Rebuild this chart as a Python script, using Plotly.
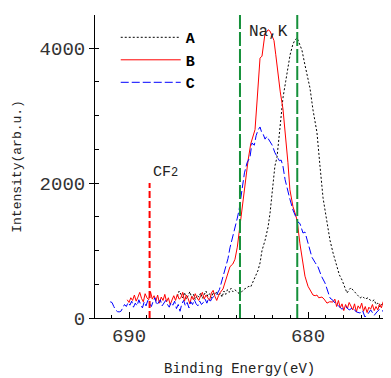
import plotly.graph_objects as go

# ---------------- data ----------------
A_E = [687.3,687.2,687.1,687.0,686.9,686.8,686.7,686.6,686.5,686.4,686.3,686.2,686.1,686.0,685.9,685.8,685.7,685.6,685.5,685.4,
       685.3,685.2,685.1,685.0,684.9,684.8,684.7,684.6,684.5,684.4,684.3,684.2,684.1,684.0,683.9,683.8,683.7,683.6,683.45,683.3,
       683.2,683.1,682.96,682.8,682.68,682.57,682.4,682.23,682.12,682.01,681.96,681.85,681.73,681.56,681.4,681.25,681.12,681.0,680.85,680.73,
       680.61,680.45,680.34,680.17,680.0,679.89,679.72,679.5,679.33,679.16,679.05,678.94,678.77,678.6,678.4,678.25,678.1,677.95,677.82,677.7,
       677.6,677.49,677.35,677.2,677.09,676.95,676.8,676.65,676.54,676.4,676.3,676.2,676.1,675.98,675.85,675.7,675.55,675.4]
A_I = [320,400,350,300,380,280,330,390,300,350,270,340,310,370,290,340,400,320,360,300,
       380,340,390,330,370,310,400,350,420,380,440,390,420,400,380,330,390,420,440,470,
       460,520,600,700,815,1000,1150,1350,1556,1850,2044,2250,2385,2800,3259,3500,3748,3900,4050,4119,
       4150,4044,3970,3748,3550,3407,3081,2750,2250,1780,1600,1407,1150,963,760,640,563,450,370,420,
       450,415,380,330,296,320,280,300,267,250,270,200,220,163,210,180,240,222]

B_E = [690.1,690.0,689.9,689.8,689.7,689.6,689.5,689.4,689.3,689.2,689.1,689.0,688.9,688.8,688.7,688.6,688.5,688.4,688.3,688.2,
       688.1,688.0,687.9,687.8,687.7,687.6,687.5,687.4,687.3,687.2,687.1,687.0,686.9,686.8,686.7,686.6,686.5,686.4,686.3,686.2,
       686.1,686.0,685.9,685.8,685.7,685.6,685.5,685.4,685.3,685.2,685.1,685.0,
       684.9,684.75,684.6,684.47,684.36,684.2,684.08,683.95,683.85,683.75,683.63,683.5,683.35,683.2,683.07,682.96,682.85,682.75,
       682.68,682.57,682.48,682.4,682.3,682.23,682.12,682.01,681.9,681.8,681.68,681.55,681.4,681.28,681.12,681.01,680.84,680.73,
       680.61,680.45,680.3,680.17,680.0,679.85,679.72,679.6,679.5,679.4,679.22,679.1,678.94,678.8,
       678.6,678.5,678.4,678.3,678.2,678.1,678.0,677.9,677.8,677.7,677.6,677.5,677.4,677.3,677.2,677.1,677.0,676.9,676.8,676.7,
       676.6,676.5,676.4,676.3,676.2,676.1,676.0,675.9,675.8,675.7,675.6,675.5,675.4]
B_I = [270,230,300,260,340,250,310,380,290,240,360,300,270,390,280,330,250,340,220,310,
       260,350,240,300,200,280,330,260,350,280,300,380,250,340,290,210,320,270,360,300,
       260,330,380,280,340,300,260,370,410,320,260,330,
       380,430,560,700,760,800,870,1050,1260,1450,1780,2050,2330,2580,2700,2790,3200,3600,
       3850,3880,4100,4220,4240,4270,4250,4190,4110,3900,3620,3350,3100,2780,2300,1900,1650,1560,
       1450,1100,850,620,470,400,340,330,340,300,310,280,220,240,
       237,280,170,260,150,210,110,200,140,230,170,120,210,90,180,140,220,100,170,80,
       160,130,200,110,170,120,210,150,240,180,260,200,230]

C_E = [691.05,690.95,690.85,690.75,690.65,690.55,690.45,690.35,690.25,690.15,690.05,689.95,689.85,689.75,689.65,689.55,689.45,689.35,689.25,689.15,
       689.05,688.95,688.85,688.75,688.65,688.55,688.45,688.35,688.25,688.15,688.05,687.95,687.85,687.75,687.65,687.55,687.45,687.35,687.25,687.15,
       687.05,686.95,686.85,686.75,686.65,686.55,686.45,686.35,686.25,686.15,686.05,685.95,685.85,685.75,685.65,685.55,685.45,685.35,
       685.2,685.1,684.95,684.8,684.6,684.47,684.36,684.2,684.08,683.95,683.85,683.69,683.55,683.41,683.24,683.13,683.0,682.9,682.79,682.68,
       682.6,682.5,682.4,682.3,682.15,682.0,681.85,681.73,681.6,681.5,681.4,681.28,681.15,681.01,680.84,680.7,680.56,680.45,680.28,680.17,
       680.0,679.78,679.6,679.44,679.25,679.05,678.9,678.77,678.6,678.49,
       678.3,678.1,677.9,677.7,677.5,677.3,677.09,676.95,676.82,676.65,676.5,676.3,676.15,676.0,675.8,675.59,675.42]
C_I = [240,230,170,120,95,90,100,150,200,170,230,190,250,160,220,180,270,200,150,240,
       180,260,210,170,250,300,190,230,270,180,220,260,200,160,230,190,250,140,200,100,
       210,260,180,230,150,240,200,270,210,180,250,200,230,280,220,290,250,300,
       330,350,420,560,760,880,1040,1200,1340,1480,1600,1940,2150,2296,2385,2593,2560,2700,2785,2830,
       2760,2720,2650,2690,2620,2560,2450,2380,2330,2340,2250,2050,1900,1760,1600,1500,1420,1400,1259,1274,
       1110,900,820,756,620,519,400,296,260,222,
       180,130,170,120,150,90,74,110,15,60,120,40,89,130,100,163,190]

SERIES_NAMES = ["A", "B", "C"]
X_TICKS = [690, 680]
Y_TICKS = [0, 2000, 4000]
NAK_LINES = [683.8, 680.6]      # green dashed markers (Na,K)
CF2_LINE = 688.85               # red dashed CF2 marker
CF2_HEIGHT = 2000

X_RANGE = [691.9, 675.81]
Y_RANGE = [0, 4489]

# ---------------- figure ----------------
FONT = "Liberation Mono"
fig = go.Figure()
fig.add_trace(go.Scatter(x=A_E, y=A_I, mode="lines", name=SERIES_NAMES[0],
                         line=dict(color="black", width=1, dash="2px,2px")))
fig.add_trace(go.Scatter(x=B_E, y=B_I, mode="lines", name=SERIES_NAMES[1],
                         line=dict(color="#ff0000", width=1)))
fig.add_trace(go.Scatter(x=C_E, y=C_I, mode="lines", name=SERIES_NAMES[2],
                         line=dict(color="#0000ff", width=1, dash="8px,3px")))

for xv in NAK_LINES:
    fig.add_shape(type="line", xref="x", yref="paper", x0=xv, x1=xv, y0=0, y1=1,
                  line=dict(color="#15903a", width=2, dash="14px,3px"), layer="above")
fig.add_shape(type="line", xref="x", yref="y", x0=CF2_LINE, x1=CF2_LINE, y0=0, y1=CF2_HEIGHT,
              line=dict(color="#ff0000", width=2, dash="7px,3px"), layer="above")

fig.add_annotation(x=682.23, y=4237, xref="x", yref="y", text="Na,K", showarrow=False,
                   font=dict(family=FONT, size=16, color="#222"), xanchor="center", yanchor="middle")
fig.add_annotation(x=CF2_LINE, y=CF2_HEIGHT, xref="x", yref="y",
                   text="CF<span style='font-size:12px'>2</span>", showarrow=False,
                   font=dict(family=FONT, size=15, color="#222"), xanchor="left", yanchor="bottom",
                   xshift=1, yshift=0)

# axis titles
fig.add_annotation(x=0.5, y=-0.168, xref="paper", yref="paper", text="Binding Energy(eV)",
                   showarrow=False, font=dict(family=FONT, size=14, color="#222"),
                   xanchor="center", yanchor="middle")
fig.add_annotation(x=-0.27, y=0.5, xref="paper", yref="paper", text="Intensity(arb.u.)",
                   showarrow=False, textangle=-90, font=dict(family=FONT, size=13, color="#222"),
                   xanchor="center", yanchor="middle")

fig.update_layout(
    width=375, height=370,
    margin=dict(l=87, r=0, t=7, b=60, autoexpand=False),
    paper_bgcolor="white", plot_bgcolor="white",
    showlegend=True,
    legend=dict(x=0.072, y=0.98, xanchor="left", yanchor="top",
                font=dict(family=FONT, size=15, color="black", weight="bold"),
                bgcolor="rgba(0,0,0,0)", tracegroupgap=0, itemwidth=60),
    xaxis=dict(range=X_RANGE, tickvals=X_TICKS, ticktext=[str(v) for v in X_TICKS],
               automargin=False,
               showgrid=False, zeroline=False, showline=True, linecolor="black", linewidth=1,
               ticks="inside", ticklen=6, tickcolor="black",
               minor=dict(dtick=1, ticks="inside", ticklen=3, tickcolor="black"),
               tickfont=dict(family=FONT, size=19, color="#333")),
    xaxis2=dict(range=X_RANGE, overlaying="x", side="top", tickvals=X_TICKS,
                automargin=False,
                showticklabels=False, showgrid=False, zeroline=False, showline=True,
                linecolor="#777", linewidth=2, ticks="inside", ticklen=5, tickcolor="#555",
                minor=dict(dtick=1, ticks="inside", ticklen=3, tickcolor="#555")),
    yaxis=dict(range=Y_RANGE, tickvals=Y_TICKS, ticktext=[str(v) for v in Y_TICKS],
               automargin=False,
               showgrid=False, zeroline=False, showline=True, linecolor="black", linewidth=1,
               ticks="outside", ticklen=5, tickcolor="black",
               minor=dict(dtick=500, ticks="inside", ticklen=4, tickcolor="black"),
               tickfont=dict(family=FONT, size=19, color="#333")),
)

fig.write_html("out.html")
